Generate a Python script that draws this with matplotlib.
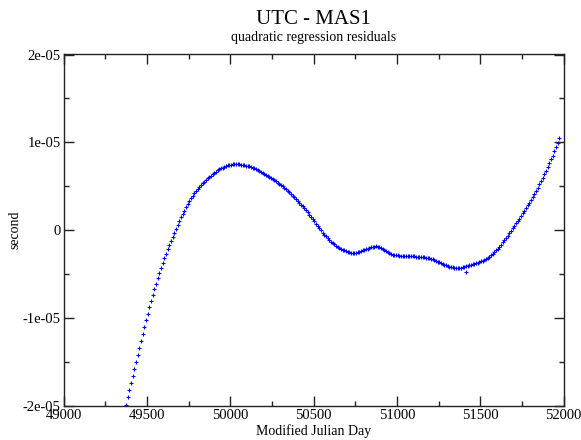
import numpy as np
import matplotlib
matplotlib.use("Agg")
import matplotlib.pyplot as plt
from matplotlib.ticker import MultipleLocator, FuncFormatter

title = "UTC - MAS1"
subtitle = "quadratic regression residuals"
xlabel = "Modified Julian Day"
ylabel = "second"

# MJD of the first sample and sampling step (days)
mjd_start = 49374
mjd_step = 10

# residuals in microseconds (one every 10 days)
residual_us = [
    -19.90, -19.08, -18.26, -17.44, -16.63, -15.82, -15.01, -14.20, -13.40, -12.60,
    -11.80, -11.03, -10.27, -9.52, -8.80, -8.10, -7.42, -6.76, -6.12, -5.50,
    -4.90, -4.32, -3.76, -3.22, -2.70, -2.20, -1.71, -1.23, -0.76, -0.30,
    0.15, 0.59, 1.02, 1.43, 1.83, 2.22, 2.59, 2.95, 3.29, 3.60,
    3.89, 4.16, 4.41, 4.65, 4.88, 5.10, 5.31, 5.51, 5.70, 5.88,
    6.05, 6.21, 6.36, 6.52, 6.66, 6.79, 6.91, 7.02, 7.12, 7.21,
    7.29, 7.36, 7.41, 7.45, 7.48, 7.50, 7.50, 7.49, 7.47, 7.44,
    7.41, 7.38, 7.34, 7.30, 7.25, 7.18, 7.10, 7.01, 6.92, 6.82,
    6.72, 6.61, 6.50, 6.38, 6.27, 6.16, 6.05, 5.93, 5.81, 5.68,
    5.55, 5.41, 5.27, 5.12, 4.96, 4.80, 4.63, 4.46, 4.28, 4.10,
    3.91, 3.71, 3.51, 3.31, 3.10, 2.89, 2.68, 2.46, 2.23, 2.00,
    1.74, 1.49, 1.23, 0.97, 0.71, 0.45, 0.20, -0.05, -0.29, -0.52,
    -0.74, -0.95, -1.14, -1.32, -1.49, -1.64, -1.78, -1.91, -2.03, -2.14,
    -2.24, -2.33, -2.41, -2.48, -2.54, -2.59, -2.62, -2.63, -2.61, -2.56,
    -2.49, -2.41, -2.33, -2.25, -2.18, -2.11, -2.04, -1.98, -1.93, -1.89,
    -1.88, -1.92, -1.99, -2.08, -2.19, -2.31, -2.44, -2.56, -2.67, -2.75,
    -2.81, -2.85, -2.88, -2.90, -2.91, -2.92, -2.93, -2.93, -2.94, -2.95,
    -2.96, -2.97, -2.99, -3.01, -3.03, -3.05, -3.07, -3.09, -3.11, -3.13,
    -3.15, -3.18, -3.22, -3.27, -3.34, -3.42, -3.51, -3.60, -3.69, -3.78,
    -3.87, -3.96, -4.04, -4.11, -4.17, -4.22, -4.26, -4.29, -4.31, -4.32,
    -4.31, -4.28, -4.24, -4.19, -4.14, -4.09, -4.03, -3.97, -3.91, -3.85,
    -3.79, -3.73, -3.66, -3.58, -3.50, -3.41, -3.31, -3.19, -3.05, -2.89,
    -2.71, -2.52, -2.32, -2.11, -1.89, -1.66, -1.42, -1.17, -0.91, -0.64,
    -0.37, -0.09, 0.19, 0.47, 0.75, 1.03, 1.31, 1.60, 1.89, 2.19,
    2.49, 2.80, 3.12, 3.45, 3.78, 4.12, 4.47, 4.83, 5.20, 5.58,
    5.97, 6.37, 6.78, 7.20, 7.62, 8.05, 8.49, 8.96, 9.45, 9.96,
    10.50,
]

# isolated outlier sample
outlier_mjd = [51414]
outlier_us = [-4.80]

mjd = mjd_start + mjd_step * np.arange(len(residual_us))
resid = np.array(residual_us) * 1e-6

plt.rcParams["font.family"] = ["Liberation Serif", "DejaVu Serif"]

W, H = 581, 440
fig = plt.figure(figsize=(W / 100, H / 100), dpi=100)
ax = fig.add_axes([63.5 / W, 1 - 405.5 / H, 500 / W, 351 / H])

mk = dict(linestyle="none", marker="+", markersize=2.6, markeredgewidth=0.8,
          color="#0000ff", clip_on=True)
ax.plot(mjd, resid, **mk)
ax.plot(outlier_mjd, np.array(outlier_us) * 1e-6, **mk)

ax.set_xlim(49000, 52000)
ax.set_ylim(-2e-5, 2e-5)
ax.xaxis.set_major_locator(MultipleLocator(500))
ax.xaxis.set_minor_locator(MultipleLocator(250))
ax.yaxis.set_major_locator(MultipleLocator(1e-5))
ax.yaxis.set_minor_locator(MultipleLocator(5e-6))
fmt = FuncFormatter(lambda v, p: "%g" % (0 if abs(v) < 1e-12 else v))
ax.xaxis.set_major_formatter(fmt)
ax.yaxis.set_major_formatter(fmt)

ax.tick_params(which="both", direction="in", top=True, right=True,
               color="#222222", width=1.0, labelsize=10.5)
ax.tick_params(which="major", length=7.2)
ax.tick_params(which="minor", length=3.6)
ax.tick_params(axis="x", which="major", pad=2.5)
ax.tick_params(axis="y", which="major", pad=2)
for s in ax.spines.values():
    s.set_linewidth(1.0)
    s.set_color("#222222")

ax.set_xlabel(xlabel, fontsize=10)
ax.xaxis.set_label_coords(0.5, (405.5 - 431.5) / 351)
ax.xaxis.label.set_va("center")
ax.set_ylabel(ylabel, fontsize=10)
ax.yaxis.set_label_coords((15 - 63.5) / 500, 0.5)
ax.yaxis.label.set_va("center")

cx = (63.5 + 250) / W
fig.text(cx, 1 - 24 / H, title, ha="center", va="baseline", fontsize=15)
fig.text(cx, 1 - 41.5 / H, subtitle, ha="center", va="baseline", fontsize=10)

fig.savefig("out.png", dpi=100)
